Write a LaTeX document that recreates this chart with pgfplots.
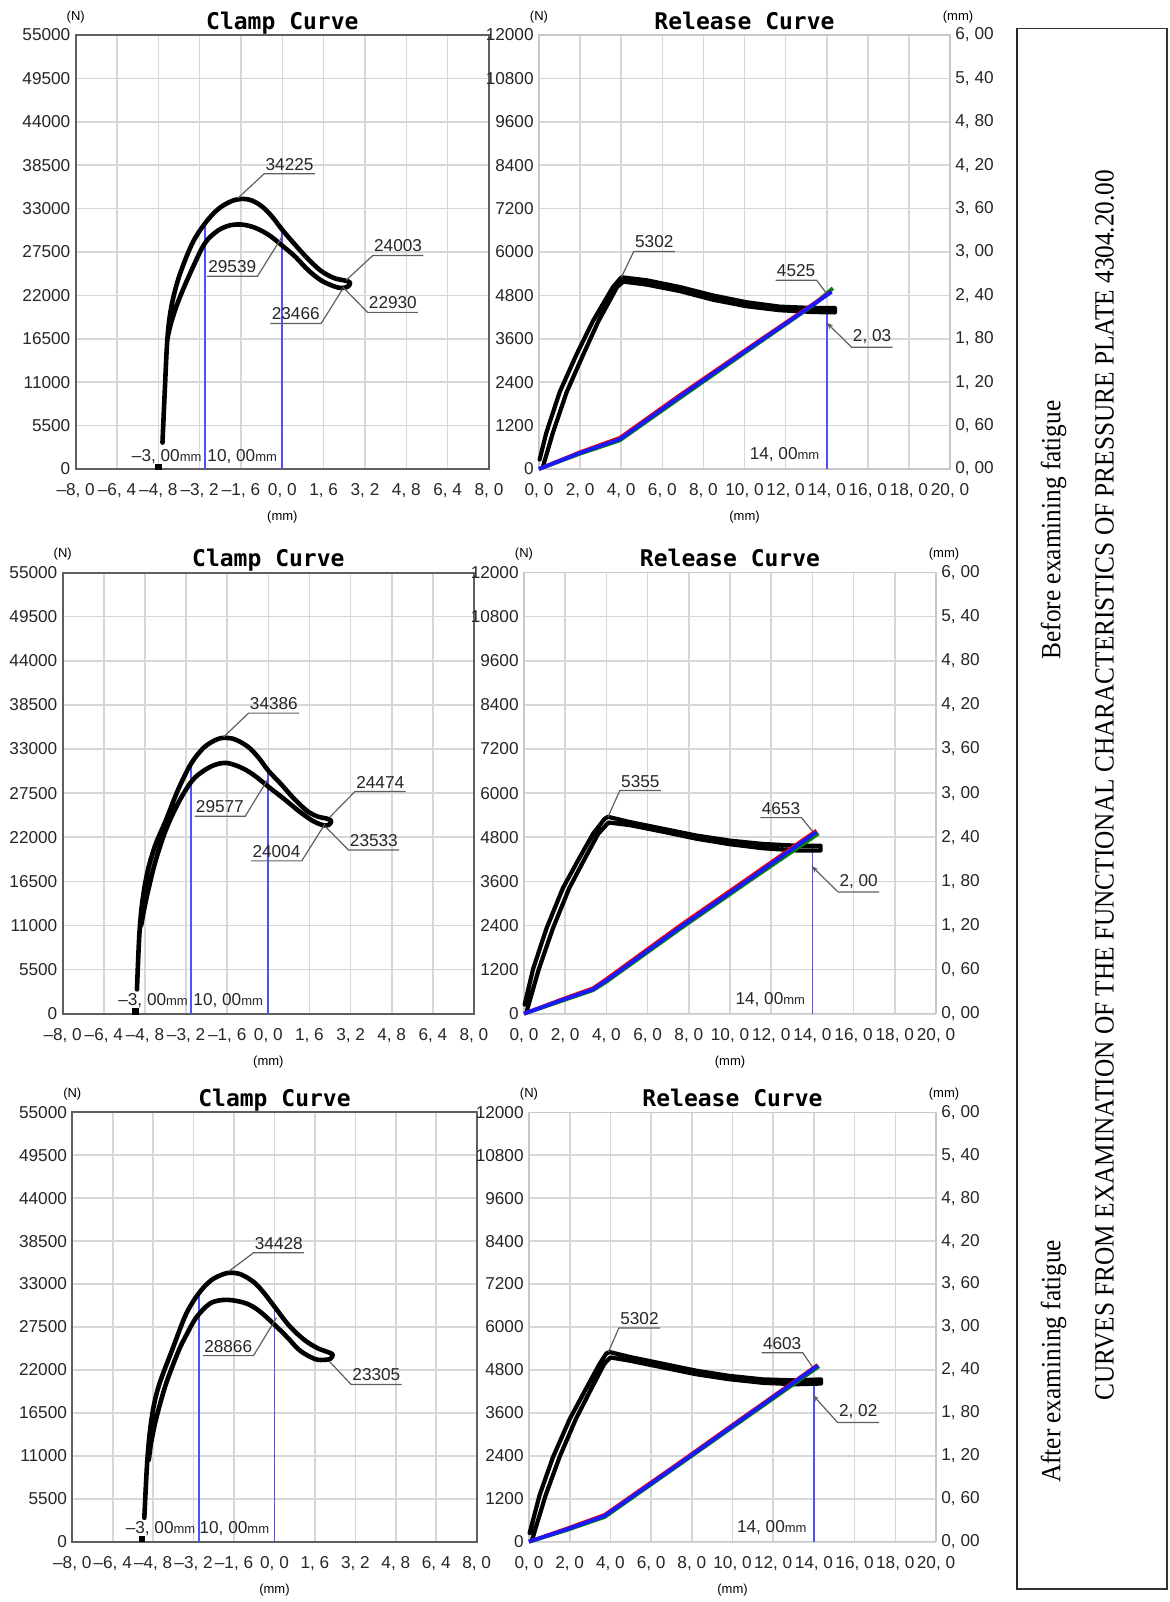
\documentclass[border=0pt]{standalone}
\usepackage{fontspec}
\setmainfont{Liberation Serif}
\newfontfamily\tickfont{Liberation Sans}
\newfontfamily\titlefont{DejaVu Sans Mono}
\usepackage{graphicx}
\usepackage{pgfplots}
\pgfplotsset{compat=1.18}
\usetikzlibrary{arrows.meta}

\definecolor{gridgray}{RGB}{215,215,215}
\definecolor{framedark}{RGB}{95,95,95}
\definecolor{framelight}{RGB}{200,200,200}
\definecolor{leadgray}{RGB}{95,95,95}
\definecolor{cblue}{RGB}{25,25,255}
\definecolor{cred}{RGB}{235,0,0}
\definecolor{cgreen}{RGB}{0,140,0}
\definecolor{vblue}{RGB}{80,80,255}

\newcommand{\tf}{\tickfont\fontsize{8.6}{10}\selectfont}
\newcommand{\sm}{\tickfont\fontsize{6.5}{7}\selectfont}

% annotation: leader from target to elbow, text on the underline
\newcommand{\annR}[3]{%
  \node[anchor=south west, inner xsep=0.5pt, inner ysep=1.5pt, font=\tf, text=black!85] (L) at (axis cs:#2) {#3};
  \draw[leadgray, line width=0.6pt] (axis cs:#1) -- (L.south west) -- (L.south east);}
\newcommand{\annL}[3]{%
  \node[anchor=south east, inner xsep=0.5pt, inner ysep=1.5pt, font=\tf, text=black!85] (L) at (axis cs:#2) {#3};
  \draw[leadgray, line width=0.6pt] (axis cs:#1) -- (L.south east) -- (L.south west);}
\newcommand{\annA}[3]{%
  \node[anchor=south west, inner xsep=0.5pt, inner ysep=1.5pt, font=\tf, text=black!85] (L) at (axis cs:#2) {#3};
  \draw[leadgray, line width=0.6pt, -{Stealth[length=3.5pt,width=2.5pt]}] (L.south east) -- (L.south west) -- (axis cs:#1);}

\pgfplotsset{
  panel/.style={
    scale only axis, anchor=north west, clip=false,
    grid=major, grid style={gridgray, line width=0.8pt},
    major tick length=0pt, scaled ticks=false,
    tick label style={font=\tf, text=black!85},
    yticklabel style={anchor=east, inner sep=0pt, xshift=-2.5pt},
    xticklabel style={anchor=north, inner sep=0pt, yshift=-7pt},
  },
  clamp/.style={panel,
    xmin=-8, xmax=8, ymin=0, ymax=55000,
    xtick={-8,-6.4,-4.8,-3.2,-1.6,0,1.6,3.2,4.8,6.4,8},
    xticklabels={{–8, 0},{–6, 4},{–4, 8},{–3, 2},{–1, 6},{0, 0},{1, 6},{3, 2},{4, 8},{6, 4},{8, 0}},
    ytick={0,5500,11000,16500,22000,27500,33000,38500,44000,49500,55000},
    yticklabels={0,5500,11000,16500,22000,27500,33000,38500,44000,49500,55000},
    axis line style={framedark, line width=1pt},
  },
  release/.style={panel,
    xmin=0, xmax=20, ymin=0, ymax=12000,
    xtick={0,2,4,6,8,10,12,14,16,18,20},
    xticklabels={{0, 0},{2, 0},{4, 0},{6, 0},{8, 0},{10, 0},{12, 0},{14, 0},{16, 0},{18, 0},{20, 0}},
    ytick={0,1200,2400,3600,4800,6000,7200,8400,9600,10800,12000},
    yticklabels={0,1200,2400,3600,4800,6000,7200,8400,9600,10800,12000},
    axis line style={framelight, line width=0.75pt},
  },
  relright/.style={
    scale only axis, anchor=north west, clip=false,
    xmin=0, xmax=20, ymin=0, ymax=6,
    axis x line=none, axis y line*=right,
    major tick length=0pt,
    ytick={0,0.6,1.2,1.8,2.4,3,3.6,4.2,4.8,5.4,6},
    yticklabels={{0, 00},{0, 60},{1, 20},{1, 80},{2, 40},{3, 00},{3, 60},{4, 20},{4, 80},{5, 40},{6, 00}},
    tick label style={font=\tf, text=black!85},
    yticklabel style={anchor=west, inner sep=0pt, xshift=2.5pt},
    axis line style={framelight, line width=0.75pt},
  },
  curve/.style={black, line width=2.3pt, line join=round, line cap=round},
  vline/.style={vblue, line width=0.9pt},
  lift/.style={line width=1.9pt, line join=round},
}

\newcommand{\clampdeco}{%
  \node[font=\titlefont\bfseries\fontsize{11.5}{12}\selectfont, anchor=base] at (rel axis cs:0.5,1) [yshift=3pt] {Clamp Curve};
  \node[font=\sm] at (rel axis cs:0,1) [yshift=9pt] {(N)};
  \node[font=\sm] at (rel axis cs:0.5,0) [yshift=-24pt] {(mm)};
  \node[anchor=base east, inner sep=0pt, font=\tf, text=black!85] at (axis cs:-3,1000) [xshift=-1.5pt] {–3, 00{\sm mm}};
  \node[anchor=base east, inner sep=0pt, font=\tf, text=black!85] at (axis cs:0,1000) [xshift=-2.5pt] {10, 00{\sm mm}};}
\newcommand{\reldeco}{%
  \node[font=\titlefont\bfseries\fontsize{11.5}{12}\selectfont, anchor=base] at (rel axis cs:0.5,1) [yshift=3pt] {Release Curve};
  \node[font=\sm] at (rel axis cs:0,1) [yshift=9pt] {(N)};
  \node[font=\sm] at (rel axis cs:1,1) [xshift=4pt, yshift=9pt] {(mm)};
  \node[font=\sm] at (rel axis cs:0.5,0) [yshift=-24pt] {(mm)};
  \node[anchor=base east, inner sep=0pt, font=\tf, text=black!85] at (axis cs:14,250) [xshift=-3.5pt] {14, 00{\sm mm}};}

\begin{document}
\begin{tikzpicture}
\path[use as bounding box] (0pt,0pt) rectangle (584.5pt,-801pt);

% ================= row 1: before fatigue =================
\begin{axis}[clamp, at={(37.85pt,-17.5pt)}, width=206.65pt, height=217pt]
\addplot[vline] coordinates {(-3,0) (-3,31100)};
\addplot[vline] coordinates {(0,0) (0,30300)};
\addplot[curve, smooth, tension=0.55] coordinates {
(-4.64,3344) (-4.55,10000) (-4.45,16500) (-4.3,20500) (-4.0,24350) (-3.5,28500)
(-3.0,31100) (-2.5,32900) (-2.0,33900) (-1.6,34225) (-1.2,34050) (-0.8,33300)
(-0.4,32000) (0,30300) (0.5,28400) (1.0,26600) (1.5,25100) (2.0,24200) (2.4,23900)
(2.62,23650) (2.55,23150) (2.3,22930)
(2.0,23150) (1.5,23900) (1.0,25200) (0.5,26900) (0,28300) (-0.5,29600) (-1.0,30500)
(-1.5,30950) (-2.0,30900) (-2.5,30200) (-3.0,28600) (-3.5,25300) (-4.0,21500)
(-4.3,18600) (-4.45,16500)};
\addplot[only marks, mark=square*, mark size=1.4pt, black] coordinates {(-4.8,250)};
\clampdeco
\annR{-1.73,34296}{-0.70,37425}{34225}
\annL{0,29495}{-0.96,24436}{29539}
\annR{2.47,23921}{3.50,27051}{24003}
\annR{2.34,23064}{3.30,19849}{22930}
\annL{2.34,22850}{1.50,18434}{23466}
\end{axis}

\begin{axis}[release, at={(269.5pt,-17.5pt)}, width=205.5pt, height=217pt]
\addplot[vline] coordinates {(14,0) (14,4452)};
\addplot[curve, line width=2.1pt] coordinates {
(0.03,262) (0.36,1010) (1.01,2132) (1.82,3161) (2.63,4097) (3.60,5032) (4.01,5302)
(5.23,5219) (6.85,5032) (8.47,4798) (10.10,4611) (11.72,4489) (13.34,4452) (14.4,4452)
(14.4,4330) (13.34,4340) (11.72,4390) (10.10,4500) (8.47,4680) (6.85,4920) (5.23,5100)
(4.1,5180) (3.8,5032) (2.9,4097) (2.15,3161) (1.35,2132) (0.68,1010) (0.2,80)};
\reldeco
\annR{4.01,5302}{4.61,6014}{5302}
\annL{14.07,4798}{13.51,5219}{4525}
\annA{13.99,4050}{15.21,3367}{2, 03}
\end{axis}
\begin{axis}[relright, at={(269.5pt,-17.5pt)}, width=205.5pt, height=217pt]
\addplot[lift, cgreen] coordinates {(0,0) (1.98,0.21) (3.93,0.395) (6.85,0.98) (10.1,1.625) (13.34,2.265) (14.3,2.50)};
\addplot[lift, cred] coordinates {(0,0) (1.98,0.23) (3.93,0.43) (6.85,1.02) (10.1,1.655) (13.34,2.28) (14.2,2.45)};
\addplot[lift, cblue] coordinates {(0,0) (1.98,0.22) (3.93,0.41) (6.85,1.00) (10.1,1.64) (13.34,2.27) (14.24,2.45)};
\end{axis}

% ================= row 2 =================
\begin{axis}[clamp, at={(31.35pt,-286.25pt)}, width=205.65pt, height=220.6pt]
\addplot[vline] coordinates {(-3,0) (-3,31200)};
\addplot[vline] coordinates {(0,0) (0,30300)};
\addplot[curve, smooth, tension=0.55] coordinates {
(-5.11,3035) (-5.02,9779) (-4.9,14000) (-4.7,17700) (-4.4,21000) (-4.0,24000)
(-3.5,28000) (-3.0,31200) (-2.5,33200) (-2.0,34200) (-1.7,34386) (-1.3,34200)
(-0.8,33300) (-0.4,32000) (0,30300) (0.5,28600) (1.0,26800) (1.5,25300) (1.9,24600)
(2.3,24300) (2.45,24000) (2.35,23550) (2.15,23480)
(1.75,24000) (1.25,25100) (0.6,26800) (0,28300) (-0.5,29600) (-1.0,30600) (-1.6,31250)
(-2.1,31000) (-2.6,30100) (-3.0,28900) (-3.5,26300) (-4.0,22800) (-4.4,18900)
(-4.7,15000) (-4.85,12700) (-4.95,11000)};
\addplot[only marks, mark=square*, mark size=1.4pt, black] coordinates {(-5.18,300)};
\clampdeco
\annR{-1.74,34500}{-0.77,37470}{34386}
\annL{0.01,29380}{-0.90,24616}{29577}
\annR{2.40,24530}{3.37,27693}{24474}
\annR{2.21,23351}{3.12,20401}{23533}
\annL{2.21,23689}{1.30,19052}{24004}
\end{axis}

\begin{axis}[release, at={(262pt,-286.25pt)}, width=206pt, height=220.6pt]
\addplot[vline] coordinates {(14,0) (14,4570)};
\addplot[curve, line width=2.1pt] coordinates {
(0.03,248) (0.44,1214) (1.09,2317) (1.89,3420) (2.70,4248) (3.35,4892) (3.92,5306) (4.08,5355)
(5.13,5214) (6.75,5030) (8.37,4846) (9.99,4708) (11.61,4616) (13.23,4570) (14.4,4570)
(14.4,4440) (13.23,4440) (11.61,4500) (9.99,4610) (8.37,4760) (6.75,4950) (5.13,5130)
(4.1,5200) (3.6,4892) (2.98,4248) (2.2,3420) (1.4,2317) (0.72,1214) (0.15,100)};
\reldeco
\annR{4.08,5355}{4.65,6069}{5355}
\annL{14.04,4938}{13.47,5333}{4653}
\annA{13.96,4018}{15.25,3310}{2, 00}
\end{axis}
\begin{axis}[relright, at={(262pt,-286.25pt)}, width=206pt, height=220.6pt]
\addplot[lift, cgreen] coordinates {(0,0) (1.89,0.18) (3.35,0.32) (4.0,0.435) (7.56,1.15) (10.8,1.78) (14.3,2.45)};
\addplot[lift, cred] coordinates {(0,0) (1.89,0.20) (3.35,0.345) (4.0,0.47) (7.56,1.195) (10.8,1.825) (14.2,2.49)};
\addplot[lift, cblue] coordinates {(0,0) (1.89,0.19) (3.35,0.33) (4.0,0.45) (7.56,1.17) (10.8,1.80) (14.2,2.47)};
\end{axis}

% ================= row 3: after fatigue =================
\begin{axis}[clamp, at={(36.15pt,-556.15pt)}, width=202.2pt, height=214.7pt]
\addplot[vline] coordinates {(-3,0) (-3,31800)};
\addplot[vline] coordinates {(0,0) (0,30100)};
\addplot[curve, smooth, tension=0.55] coordinates {
(-5.15,3058) (-5.05,9500) (-4.95,13500) (-4.8,17000) (-4.56,20147) (-4.04,24644)
(-3.5,29141) (-3.0,31800) (-2.5,33500) (-2.0,34300) (-1.7,34450) (-1.3,34200)
(-0.8,33200) (-0.4,31800) (0,30100) (0.6,27600) (1.2,25800) (1.7,24800) (2.1,24300)
(2.3,24000) (2.22,23450) (2.0,23300)
(1.6,23400) (1.0,24500) (0.5,26200) (0,27800) (-0.6,29550) (-1.1,30500) (-1.7,30940)
(-2.2,30900) (-2.6,30400) (-3.1,28700) (-3.5,26400) (-3.8,24400) (-4.3,20147)
(-4.69,15650) (-4.89,12502) (-4.97,10500)};
\addplot[only marks, mark=square*, mark size=1.4pt, black] coordinates {(-5.24,350)};
\clampdeco
\annR{-1.81,34627}{-0.83,37010}{34428}
\annL{0.08,28691}{-0.83,23834}{28866}
\annR{2.18,23069}{3.03,20147}{23305}
\end{axis}

\begin{axis}[release, at={(264.5pt,-556.15pt)}, width=203.5pt, height=214.7pt]
\addplot[vline] coordinates {(14,0) (14,4508)};
\addplot[curve, line width=2.1pt] coordinates {
(0.03,241) (0.52,1303) (1.18,2365) (2.0,3427) (2.82,4296) (3.47,4972) (3.80,5261) (3.96,5302)
(4.94,5165) (6.58,4972) (8.22,4779) (9.85,4634) (11.49,4537) (13.13,4508) (14.35,4537)
(14.35,4420) (13.13,4400) (11.49,4440) (9.85,4540) (8.22,4680) (6.58,4870) (4.94,5060)
(4.0,5150) (3.7,4972) (3.08,4296) (2.3,3427) (1.5,2365) (0.82,1303) (0.15,50)};
\reldeco
\annR{3.90,5300}{4.42,5975}{5302}
\annL{13.94,4875}{13.45,5281}{4603}
\annA{13.94,4103}{15.17,3331}{2, 02}
\end{axis}
\begin{axis}[relright, at={(264.5pt,-556.15pt)}, width=203.5pt, height=214.7pt]
\addplot[lift, cgreen] coordinates {(0,0) (1.83,0.16) (3.72,0.345) (7.40,1.08) (10.67,1.735) (14.25,2.45)};
\addplot[lift, cred] coordinates {(0,0) (1.83,0.18) (3.72,0.375) (7.40,1.105) (10.67,1.765) (14.19,2.47)};
\addplot[lift, cblue] coordinates {(0,0) (1.83,0.17) (3.72,0.36) (7.40,1.09) (10.67,1.75) (14.19,2.46)};
\end{axis}

% ================= side caption box =================
\draw[black!80, line width=0.75pt] (508.5pt,-14.3pt) rectangle (583.5pt,-794.5pt);
\draw[black!85, line width=1.3pt] (508.5pt,-14.3pt) -- (508.5pt,-794.5pt);
\node[rotate=90, inner sep=0pt, font=\fontsize{13.9}{16}\selectfont] at (552.3pt,-392.5pt)
  {\scalebox{0.91}[1]{CURVES FROM EXAMINATION OF THE FUNCTIONAL CHARACTERISTICS OF PRESSURE PLATE 4304.20.00}};
\node[rotate=90, inner sep=0pt, font=\fontsize{13.9}{16}\selectfont] at (526.8pt,-265pt)
  {\scalebox{0.91}[1]{Before examining fatigue}};
\node[rotate=90, inner sep=0pt, font=\fontsize{13.9}{16}\selectfont] at (526.8pt,-680.7pt)
  {\scalebox{0.91}[1]{After examining fatigue}};
\end{tikzpicture}
\end{document}
